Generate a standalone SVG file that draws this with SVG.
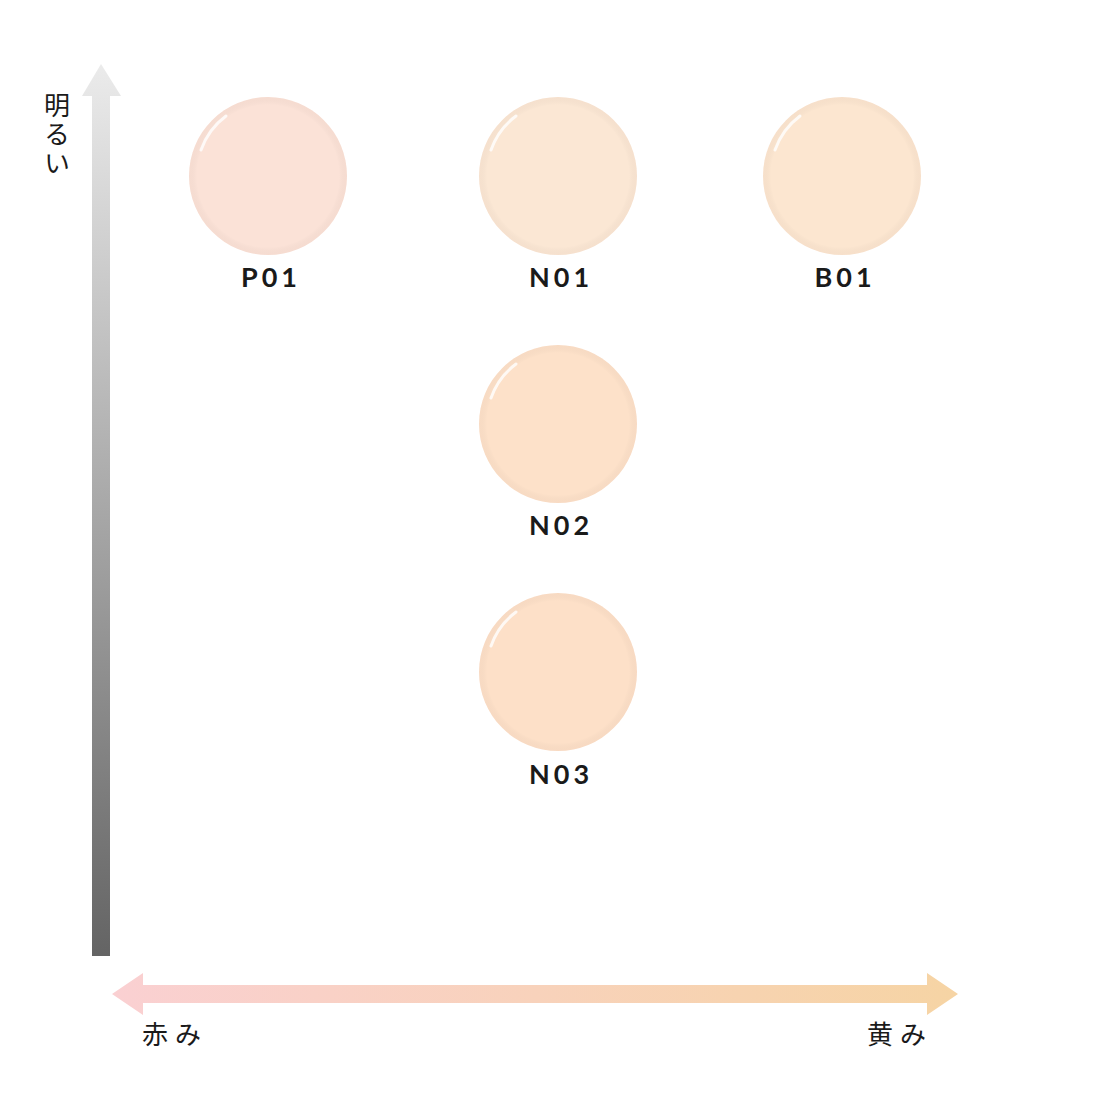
<svg xmlns="http://www.w3.org/2000/svg" width="1106" height="1106" viewBox="0 0 1106 1106">
<defs>
<linearGradient id="gv" x1="0" y1="0" x2="0" y2="1">
<stop offset="0" stop-color="#ebebeb"/><stop offset="1" stop-color="#646464"/>
</linearGradient>
<linearGradient id="gh" gradientUnits="userSpaceOnUse" x1="112" y1="0" x2="958" y2="0">
<stop offset="0" stop-color="#fad0d2"/><stop offset="1" stop-color="#f6d4a4"/>
</linearGradient>
<radialGradient id="shade" cx="0.5" cy="0.5" r="0.5">
<stop offset="0.9" stop-color="#000" stop-opacity="0"/>
<stop offset="1" stop-color="#b08070" stop-opacity="0.06"/>
</radialGradient>
<style>
.lbl{font-family:"Lato","Noto Sans",sans-serif;font-size:27px;font-weight:700;fill:#1a1a1a;letter-spacing:4px;text-anchor:middle}
.jp{font-family:"Noto Sans CJK JP",sans-serif;font-size:26px;fill:#1a1a1a}
.hl{fill:none;stroke:#fff;stroke-width:3;stroke-linecap:round;opacity:0.8}
</style>
</defs>
<rect width="1106" height="1106" fill="#fff"/>
<g id="connectors">
<path d="M92,96 L82,96 L101,64 L121,96 L110,96 L110,956 L92,956 Z" fill="url(#gv)"/>
<path d="M112,994 L143,973 L143,985 L927,985 L927,973 L958,994 L927,1015 L927,1003 L143,1003 L143,1015 Z" fill="url(#gh)"/>
</g>
<g id="axis-y-label"><text class="jp" x="57" y="92" style="writing-mode:vertical-rl" font-size="25" letter-spacing="3">明るい</text></g>
<g id="axis-x-left"><text class="jp" x="142" y="1044" letter-spacing="7">赤み</text></g>
<g id="axis-x-right"><text class="jp" x="867" y="1044" letter-spacing="7">黄み</text></g>
<g id="P01"><circle cx="268" cy="176" r="79" fill="#fbe2d7"/><circle cx="268" cy="176" r="79" fill="url(#shade)"/><path class="hl" d="M201,150 A72,72 0 0 1 226,116"/><text class="lbl" x="271" y="287">P01</text></g>
<g id="N01"><circle cx="558" cy="176" r="79" fill="#fbe7d4"/><circle cx="558" cy="176" r="79" fill="url(#shade)"/><path class="hl" d="M491,150 A72,72 0 0 1 516,116"/><text class="lbl" x="561" y="287">N01</text></g>
<g id="B01"><circle cx="842" cy="176" r="79" fill="#fce6d0"/><circle cx="842" cy="176" r="79" fill="url(#shade)"/><path class="hl" d="M775,150 A72,72 0 0 1 800,116"/><text class="lbl" x="845" y="287">B01</text></g>
<g id="N02"><circle cx="558" cy="424" r="79" fill="#fde1c9"/><circle cx="558" cy="424" r="79" fill="url(#shade)"/><path class="hl" d="M491,398 A72,72 0 0 1 516,364"/><text class="lbl" x="561" y="535">N02</text></g>
<g id="N03"><circle cx="558" cy="672" r="79" fill="#fde0c8"/><circle cx="558" cy="672" r="79" fill="url(#shade)"/><path class="hl" d="M491,646 A72,72 0 0 1 516,612"/><text class="lbl" x="561" y="784">N03</text></g>
</svg>
